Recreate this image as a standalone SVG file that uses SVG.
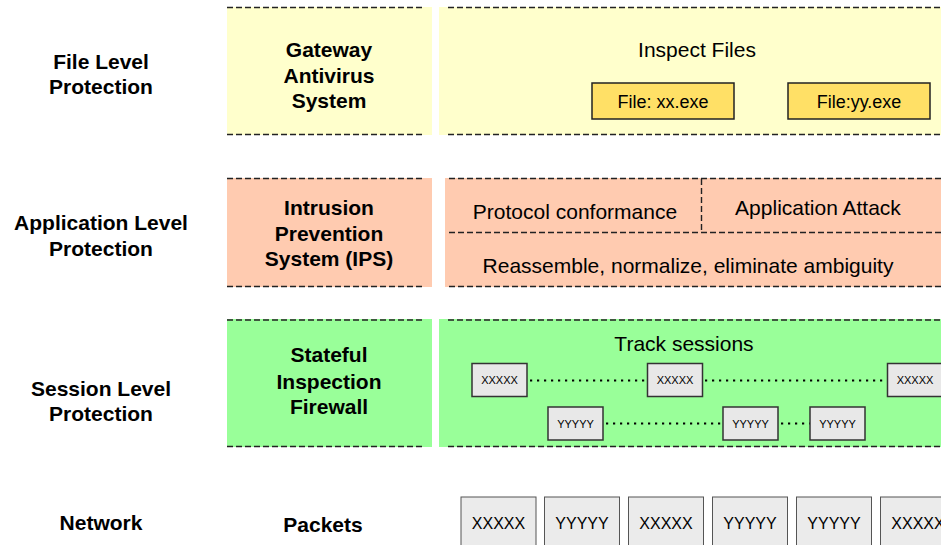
<svg xmlns="http://www.w3.org/2000/svg" width="941" height="545" viewBox="0 0 941 545">
<style>
text{font-family:"Liberation Sans",Arial,sans-serif;fill:#000;text-anchor:middle}
.b{font-weight:bold;font-size:21px}
.r{font-size:21px}
.f{font-size:18px}
.s{font-size:11px}
.p{font-size:16px}
.dash{stroke:#222;stroke-width:1.4;stroke-dasharray:6,3;fill:none}
.yel{fill:#FFFFCC}
.pink{fill:#FFCBB0}
.grn{fill:#99FF99}
.gold{fill:#FFE066;stroke:#222;stroke-width:1.5}
.sm{fill:#E8E8E8;stroke:#333;stroke-width:1.5}
.pk{fill:#EBEBEB;stroke:#555;stroke-width:1}
.dot{stroke:#000;stroke-width:2.2;stroke-dasharray:2.2,4.8;fill:none}
</style>
<rect width="941" height="545" fill="#fff"/>

<g id="label-file">
<text class="b" x="101" y="69">File Level</text>
<text class="b" x="101" y="94">Protection</text>
</g>
<g id="label-app">
<text class="b" x="101" y="230">Application Level</text>
<text class="b" x="101" y="256">Protection</text>
</g>
<g id="label-session">
<text class="b" x="101" y="396">Session Level</text>
<text class="b" x="101" y="421">Protection</text>
</g>
<g id="label-network">
<text class="b" x="101" y="530">Network</text>
</g>

<g id="gateway-av">
<rect class="yel" x="227" y="7" width="205" height="128"/>
<line class="dash" x1="227" y1="7.5" x2="425" y2="7.5"/>
<line class="dash" x1="227" y1="134.5" x2="425" y2="134.5"/>
<text class="b" x="329" y="57">Gateway</text>
<text class="b" x="329" y="83">Antivirus</text>
<text class="b" x="329" y="108">System</text>
</g>
<g id="inspect-files">
<rect class="yel" x="439" y="7" width="502" height="128"/>
<line class="dash" x1="448" y1="7.5" x2="941" y2="7.5"/>
<line class="dash" x1="448" y1="134.5" x2="941" y2="134.5"/>
<text class="r" x="697" y="57">Inspect Files</text>
</g>
<g id="file-xx">
<rect class="gold" x="592" y="83" width="142" height="36"/>
<text class="f" x="663" y="108">File: xx.exe</text>
</g>
<g id="file-yy">
<rect class="gold" x="788" y="83" width="142" height="36"/>
<text class="f" x="859" y="108">File:yy.exe</text>
</g>

<g id="ips">
<rect class="pink" x="227" y="178" width="205" height="109"/>
<line class="dash" x1="227" y1="178.5" x2="425" y2="178.5"/>
<line class="dash" x1="227" y1="286.5" x2="425" y2="286.5"/>
<text class="b" x="329" y="215">Intrusion</text>
<text class="b" x="329" y="241">Prevention</text>
<text class="b" x="329" y="266">System (IPS)</text>
</g>
<g id="ips-detail">
<rect class="pink" x="445" y="178" width="496" height="109"/>
<line class="dash" x1="449" y1="178.5" x2="941" y2="178.5"/>
<line class="dash" x1="449" y1="232.5" x2="941" y2="232.5"/>
<line class="dash" x1="449" y1="286.5" x2="941" y2="286.5"/>
<line class="dash" x1="701.5" y1="179" x2="701.5" y2="232"/>
<text class="r" x="575" y="219">Protocol conformance</text>
<text class="r" x="818" y="215">Application Attack</text>
<text class="r" x="688" y="273">Reassemble, normalize, eliminate ambiguity</text>
</g>

<g id="firewall">
<rect class="grn" x="227" y="319" width="205" height="128"/>
<line class="dash" x1="227" y1="320" x2="425" y2="320"/>
<line class="dash" x1="227" y1="446.5" x2="425" y2="446.5"/>
<text class="b" x="329" y="362">Stateful</text>
<text class="b" x="329" y="389">Inspection</text>
<text class="b" x="329" y="414">Firewall</text>
</g>
<g id="track-sessions">
<rect class="grn" x="439" y="319" width="502" height="128"/>
<line class="dash" x1="448" y1="320" x2="941" y2="320"/>
<line class="dash" x1="448" y1="446.5" x2="941" y2="446.5"/>
<text class="r" x="684" y="351">Track sessions</text>
</g>

<g id="connectors">
<line class="dot" x1="530" y1="380.5" x2="647" y2="380.5"/>
<line class="dot" x1="705" y1="380.5" x2="887" y2="380.5"/>
<line class="dot" x1="606" y1="423.5" x2="723" y2="423.5"/>
<line class="dot" x1="781" y1="423.5" x2="810" y2="423.5"/>
</g>

<g id="sx1"><rect class="sm" x="472" y="363.5" width="55" height="33"/><text class="s" x="499.5" y="384">XXXXX</text></g>
<g id="sx2"><rect class="sm" x="647.5" y="363.5" width="55" height="33"/><text class="s" x="675" y="384">XXXXX</text></g>
<g id="sx3"><rect class="sm" x="887.5" y="363.5" width="55" height="33"/><text class="s" x="915" y="384">XXXXX</text></g>
<g id="sy1"><rect class="sm" x="548" y="407" width="55" height="33"/><text class="s" x="575.5" y="427.5">YYYYY</text></g>
<g id="sy2"><rect class="sm" x="723" y="407" width="55" height="33"/><text class="s" x="750.5" y="427.5">YYYYY</text></g>
<g id="sy3"><rect class="sm" x="810" y="407" width="55" height="33"/><text class="s" x="837.5" y="427.5">YYYYY</text></g>

<g id="packets-label"><text class="b" x="323" y="532">Packets</text></g>
<g id="pk1"><rect class="pk" x="461" y="497" width="75" height="60"/><text class="p" x="498.5" y="529">XXXXX</text></g>
<g id="pk2"><rect class="pk" x="544.5" y="497" width="75" height="60"/><text class="p" x="582" y="529">YYYYY</text></g>
<g id="pk3"><rect class="pk" x="628.5" y="497" width="75" height="60"/><text class="p" x="666" y="529">XXXXX</text></g>
<g id="pk4"><rect class="pk" x="712.5" y="497" width="75" height="60"/><text class="p" x="750" y="529">YYYYY</text></g>
<g id="pk5"><rect class="pk" x="796.5" y="497" width="75" height="60"/><text class="p" x="834" y="529">YYYYY</text></g>
<g id="pk6"><rect class="pk" x="880.5" y="497" width="75" height="60"/><text class="p" x="918" y="529">XXXXX</text></g>
</svg>
